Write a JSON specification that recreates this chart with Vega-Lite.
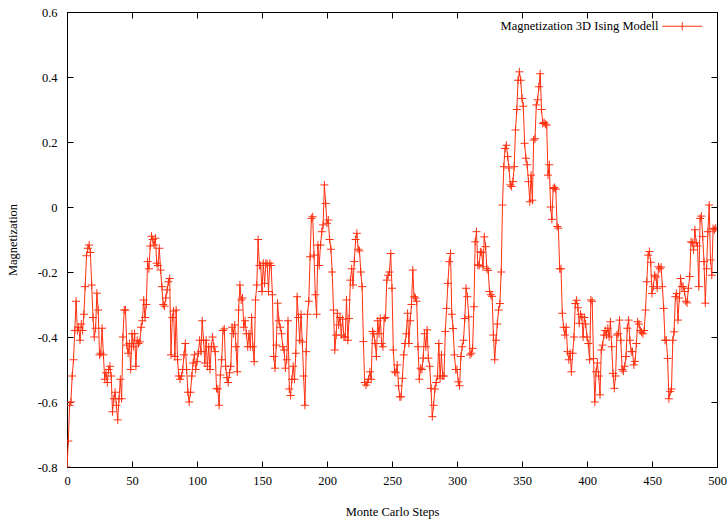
{
"$schema": "https://vega.github.io/schema/vega-lite/v6.json",
"width": 650, "height": 455,
"autosize": {"type": "none"},
"padding": {"left": 67, "top": 12, "right": 11, "bottom": 55},
"config": {
  "view": {"stroke": "black", "strokeWidth": 1},
  "font": "Liberation Serif",
  "axis": {"domainColor": "black", "tickColor": "black", "tickSize": -6, "grid": false, "labelFont": "Liberation Serif", "labelFontSize": 12.5, "labelColor": "black", "titleFont": "Liberation Serif", "titleFontSize": 12.5, "titleFontWeight": "normal", "titleColor": "black"}
},
"data": {"values": [
{"s":0,"m":-0.80},{"s":1,"m":-0.72},{"s":2,"m":-0.61},{"s":3,"m":-0.60},{"s":4,"m":-0.52},{"s":5,"m":-0.47},{"s":6,"m":-0.38},{"s":7,"m":-0.29},{"s":8,"m":-0.38},{"s":9,"m":-0.37},
{"s":10,"m":-0.41},{"s":11,"m":-0.36},{"s":12,"m":-0.38},{"s":13,"m":-0.33},{"s":14,"m":-0.245},{"s":15,"m":-0.15},{"s":16,"m":-0.127},{"s":17,"m":-0.117},{"s":18,"m":-0.14},{"s":19,"m":-0.24},
{"s":20,"m":-0.34},{"s":21,"m":-0.40},{"s":22,"m":-0.373},{"s":23,"m":-0.265},{"s":24,"m":-0.317},{"s":25,"m":-0.455},{"s":26,"m":-0.45},{"s":27,"m":-0.373},{"s":28,"m":-0.455},{"s":29,"m":-0.53},
{"s":30,"m":-0.51},{"s":31,"m":-0.54},{"s":32,"m":-0.50},{"s":33,"m":-0.49},{"s":34,"m":-0.52},{"s":35,"m":-0.63},{"s":36,"m":-0.59},{"s":37,"m":-0.57},{"s":38,"m":-0.61},{"s":39,"m":-0.655},
{"s":40,"m":-0.59},{"s":41,"m":-0.53},{"s":42,"m":-0.59},{"s":43,"m":-0.40},{"s":44,"m":-0.317},{"s":45,"m":-0.317},{"s":46,"m":-0.425},{"s":47,"m":-0.45},{"s":48,"m":-0.42},{"s":49,"m":-0.50},
{"s":50,"m":-0.39},{"s":51,"m":-0.43},{"s":52,"m":-0.39},{"s":53,"m":-0.49},{"s":54,"m":-0.41},{"s":55,"m":-0.42},{"s":56,"m":-0.415},{"s":57,"m":-0.37},{"s":58,"m":-0.35},{"s":59,"m":-0.286},
{"s":60,"m":-0.34},{"s":61,"m":-0.30},{"s":62,"m":-0.168},{"s":63,"m":-0.19},{"s":64,"m":-0.12},{"s":65,"m":-0.09},{"s":66,"m":-0.10},{"s":67,"m":-0.117},{"s":68,"m":-0.096},{"s":69,"m":-0.173},
{"s":70,"m":-0.18},{"s":71,"m":-0.127},{"s":72,"m":-0.194},{"s":73,"m":-0.245},{"s":74,"m":-0.30},{"s":75,"m":-0.305},{"s":76,"m":-0.28},{"s":77,"m":-0.255},{"s":78,"m":-0.23},{"s":79,"m":-0.22},
{"s":80,"m":-0.455},{"s":81,"m":-0.34},{"s":82,"m":-0.32},{"s":83,"m":-0.46},{"s":84,"m":-0.317},{"s":85,"m":-0.47},{"s":86,"m":-0.52},{"s":87,"m":-0.53},{"s":88,"m":-0.52},{"s":89,"m":-0.50},
{"s":90,"m":-0.455},{"s":91,"m":-0.42},{"s":92,"m":-0.50},{"s":93,"m":-0.57},{"s":94,"m":-0.60},{"s":95,"m":-0.57},{"s":96,"m":-0.52},{"s":97,"m":-0.48},{"s":98,"m":-0.455},{"s":99,"m":-0.50},
{"s":100,"m":-0.476},{"s":101,"m":-0.45},{"s":102,"m":-0.41},{"s":103,"m":-0.445},{"s":104,"m":-0.35},{"s":105,"m":-0.41},{"s":106,"m":-0.48},{"s":107,"m":-0.41},{"s":108,"m":-0.49},{"s":109,"m":-0.43},
{"s":110,"m":-0.50},{"s":111,"m":-0.43},{"s":112,"m":-0.40},{"s":113,"m":-0.43},{"s":114,"m":-0.445},{"s":115,"m":-0.558},{"s":116,"m":-0.56},{"s":117,"m":-0.61},{"s":118,"m":-0.517},{"s":119,"m":-0.47},
{"s":120,"m":-0.38},{"s":121,"m":-0.375},{"s":122,"m":-0.49},{"s":123,"m":-0.525},{"s":124,"m":-0.54},{"s":125,"m":-0.51},{"s":126,"m":-0.49},{"s":127,"m":-0.37},{"s":128,"m":-0.39},{"s":129,"m":-0.363},
{"s":130,"m":-0.43},{"s":131,"m":-0.507},{"s":132,"m":-0.317},{"s":133,"m":-0.24},{"s":134,"m":-0.286},{"s":135,"m":-0.28},{"s":136,"m":-0.37},{"s":137,"m":-0.35},{"s":138,"m":-0.39},{"s":139,"m":-0.43},
{"s":140,"m":-0.39},{"s":141,"m":-0.43},{"s":142,"m":-0.34},{"s":143,"m":-0.43},{"s":144,"m":-0.476},{"s":145,"m":-0.286},{"s":146,"m":-0.24},{"s":147,"m":-0.10},{"s":148,"m":-0.18},{"s":149,"m":-0.18},
{"s":150,"m":-0.26},{"s":151,"m":-0.173},{"s":152,"m":-0.235},{"s":153,"m":-0.173},{"s":154,"m":-0.175},{"s":155,"m":-0.26},{"s":156,"m":-0.173},{"s":157,"m":-0.18},{"s":158,"m":-0.27},{"s":159,"m":-0.46},
{"s":160,"m":-0.496},{"s":161,"m":-0.425},{"s":162,"m":-0.296},{"s":163,"m":-0.35},{"s":164,"m":-0.37},{"s":165,"m":-0.39},{"s":166,"m":-0.43},{"s":167,"m":-0.44},{"s":168,"m":-0.496},{"s":169,"m":-0.47},
{"s":170,"m":-0.35},{"s":171,"m":-0.56},{"s":172,"m":-0.58},{"s":173,"m":-0.53},{"s":174,"m":-0.49},{"s":175,"m":-0.53},{"s":176,"m":-0.45},{"s":177,"m":-0.276},{"s":178,"m":-0.34},{"s":179,"m":-0.41},
{"s":180,"m":-0.33},{"s":181,"m":-0.415},{"s":182,"m":-0.52},{"s":183,"m":-0.61},{"s":184,"m":-0.445},{"s":185,"m":-0.33},{"s":186,"m":-0.29},{"s":187,"m":-0.153},{"s":188,"m":-0.035},{"s":189,"m":-0.03},
{"s":190,"m":-0.148},{"s":191,"m":-0.27},{"s":192,"m":-0.33},{"s":193,"m":-0.117},{"s":194,"m":-0.18},{"s":195,"m":-0.117},{"s":196,"m":-0.076},{"s":197,"m":-0.055},{"s":198,"m":0.068},{"s":199,"m":0.011},
{"s":200,"m":-0.05},{"s":201,"m":-0.04},{"s":202,"m":-0.10},{"s":203,"m":-0.13},{"s":204,"m":-0.20},{"s":205,"m":-0.317},{"s":206,"m":-0.44},{"s":207,"m":-0.394},{"s":208,"m":-0.327},{"s":209,"m":-0.363},
{"s":210,"m":-0.34},{"s":211,"m":-0.394},{"s":212,"m":-0.345},{"s":213,"m":-0.40},{"s":214,"m":-0.40},{"s":215,"m":-0.286},{"s":216,"m":-0.41},{"s":217,"m":-0.343},{"s":218,"m":-0.225},{"s":219,"m":-0.19},
{"s":220,"m":-0.24},{"s":221,"m":-0.168},{"s":222,"m":-0.10},{"s":223,"m":-0.081},{"s":224,"m":-0.13},{"s":225,"m":-0.135},{"s":226,"m":-0.20},{"s":227,"m":-0.245},{"s":228,"m":-0.414},{"s":229,"m":-0.54},
{"s":230,"m":-0.548},{"s":231,"m":-0.54},{"s":232,"m":-0.53},{"s":233,"m":-0.507},{"s":234,"m":-0.53},{"s":235,"m":-0.383},{"s":236,"m":-0.39},{"s":237,"m":-0.42},{"s":238,"m":-0.46},{"s":239,"m":-0.35},
{"s":240,"m":-0.39},{"s":241,"m":-0.343},{"s":242,"m":-0.42},{"s":243,"m":-0.43},{"s":244,"m":-0.343},{"s":245,"m":-0.34},{"s":246,"m":-0.225},{"s":247,"m":-0.21},{"s":248,"m":-0.20},{"s":249,"m":-0.143},
{"s":250,"m":-0.25},{"s":251,"m":-0.44},{"s":252,"m":-0.507},{"s":253,"m":-0.51},{"s":254,"m":-0.486},{"s":255,"m":-0.55},{"s":256,"m":-0.584},{"s":257,"m":-0.584},{"s":258,"m":-0.527},{"s":259,"m":-0.455},
{"s":260,"m":-0.42},{"s":261,"m":-0.39},{"s":262,"m":-0.327},{"s":263,"m":-0.42},{"s":264,"m":-0.35},{"s":265,"m":-0.30},{"s":266,"m":-0.194},{"s":267,"m":-0.276},{"s":268,"m":-0.28},{"s":269,"m":-0.29},
{"s":270,"m":-0.43},{"s":271,"m":-0.53},{"s":272,"m":-0.496},{"s":273,"m":-0.50},{"s":274,"m":-0.465},{"s":275,"m":-0.39},{"s":276,"m":-0.43},{"s":277,"m":-0.378},{"s":278,"m":-0.465},{"s":279,"m":-0.49},
{"s":280,"m":-0.558},{"s":281,"m":-0.645},{"s":282,"m":-0.61},{"s":283,"m":-0.56},{"s":284,"m":-0.54},{"s":285,"m":-0.52},{"s":286,"m":-0.42},{"s":287,"m":-0.527},{"s":288,"m":-0.455},{"s":289,"m":-0.52},
{"s":290,"m":-0.52},{"s":291,"m":-0.383},{"s":292,"m":-0.312},{"s":293,"m":-0.235},{"s":294,"m":-0.168},{"s":295,"m":-0.143},{"s":296,"m":-0.33},{"s":297,"m":-0.374},{"s":298,"m":-0.455},{"s":299,"m":-0.50},
{"s":300,"m":-0.50},{"s":301,"m":-0.538},{"s":302,"m":-0.55},{"s":303,"m":-0.46},{"s":304,"m":-0.43},{"s":305,"m":-0.41},{"s":306,"m":-0.343},{"s":307,"m":-0.25},{"s":308,"m":-0.276},{"s":309,"m":-0.338},
{"s":310,"m":-0.455},{"s":311,"m":-0.45},{"s":312,"m":-0.435},{"s":313,"m":-0.307},{"s":314,"m":-0.107},{"s":315,"m":-0.076},{"s":316,"m":-0.178},{"s":317,"m":-0.18},{"s":318,"m":-0.138},{"s":319,"m":-0.14},
{"s":320,"m":-0.184},{"s":321,"m":-0.092},{"s":322,"m":-0.122},{"s":323,"m":-0.19},{"s":324,"m":-0.195},{"s":325,"m":-0.26},{"s":326,"m":-0.27},{"s":327,"m":-0.275},{"s":328,"m":-0.394},{"s":329,"m":-0.47},
{"s":330,"m":-0.41},{"s":331,"m":-0.36},{"s":332,"m":-0.317},{"s":333,"m":-0.297},{"s":334,"m":-0.20},{"s":335,"m":0.006},{"s":336,"m":0.124},{"s":337,"m":0.18},{"s":338,"m":0.19},{"s":339,"m":0.155},
{"s":340,"m":0.12},{"s":341,"m":0.068},{"s":342,"m":0.063},{"s":343,"m":0.078},{"s":344,"m":0.124},{"s":345,"m":0.237},{"s":346,"m":0.30},{"s":347,"m":0.39},{"s":348,"m":0.416},{"s":349,"m":0.39},
{"s":350,"m":0.334},{"s":351,"m":0.31},{"s":352,"m":0.196},{"s":353,"m":0.15},{"s":354,"m":0.13},{"s":355,"m":0.078},{"s":356,"m":0.016},{"s":357,"m":0.098},{"s":358,"m":0.021},{"s":359,"m":0.206},
{"s":360,"m":0.21},{"s":361,"m":0.314},{"s":362,"m":0.33},{"s":363,"m":0.37},{"s":364,"m":0.41},{"s":365,"m":0.30},{"s":366,"m":0.257},{"s":367,"m":0.26},{"s":368,"m":0.255},{"s":369,"m":0.252},
{"s":370,"m":0.098},{"s":371,"m":0.13},{"s":372,"m":0.0},{"s":373,"m":-0.038},{"s":374,"m":0.057},{"s":375,"m":0.06},{"s":376,"m":0.055},{"s":377,"m":-0.06},{"s":378,"m":-0.065},{"s":379,"m":-0.19},
{"s":380,"m":-0.19},{"s":381,"m":-0.327},{"s":382,"m":-0.37},{"s":383,"m":-0.394},{"s":384,"m":-0.37},{"s":385,"m":-0.445},{"s":386,"m":-0.47},{"s":387,"m":-0.45},{"s":388,"m":-0.507},{"s":389,"m":-0.45},
{"s":390,"m":-0.40},{"s":391,"m":-0.297},{"s":392,"m":-0.287},{"s":393,"m":-0.31},{"s":394,"m":-0.358},{"s":395,"m":-0.33},{"s":396,"m":-0.338},{"s":397,"m":-0.40},{"s":398,"m":-0.34},{"s":399,"m":-0.36},
{"s":400,"m":-0.40},{"s":401,"m":-0.42},{"s":402,"m":-0.47},{"s":403,"m":-0.286},{"s":404,"m":-0.29},{"s":405,"m":-0.466},{"s":406,"m":-0.60},{"s":407,"m":-0.507},{"s":408,"m":-0.48},{"s":409,"m":-0.52},
{"s":410,"m":-0.578},{"s":411,"m":-0.44},{"s":412,"m":-0.425},{"s":413,"m":-0.394},{"s":414,"m":-0.38},{"s":415,"m":-0.394},{"s":416,"m":-0.373},{"s":417,"m":-0.40},{"s":418,"m":-0.353},{"s":419,"m":-0.43},
{"s":420,"m":-0.512},{"s":421,"m":-0.558},{"s":422,"m":-0.52},{"s":423,"m":-0.394},{"s":424,"m":-0.39},{"s":425,"m":-0.348},{"s":426,"m":-0.41},{"s":427,"m":-0.50},{"s":428,"m":-0.505},{"s":429,"m":-0.49},
{"s":430,"m":-0.46},{"s":431,"m":-0.373},{"s":432,"m":-0.348},{"s":433,"m":-0.41},{"s":434,"m":-0.445},{"s":435,"m":-0.445},{"s":436,"m":-0.486},{"s":437,"m":-0.475},{"s":438,"m":-0.42},{"s":439,"m":-0.353},
{"s":440,"m":-0.36},{"s":441,"m":-0.38},{"s":442,"m":-0.385},{"s":443,"m":-0.39},{"s":444,"m":-0.38},{"s":445,"m":-0.317},{"s":446,"m":-0.23},{"s":447,"m":-0.148},{"s":448,"m":-0.137},{"s":449,"m":-0.17},
{"s":450,"m":-0.266},{"s":451,"m":-0.245},{"s":452,"m":-0.21},{"s":453,"m":-0.215},{"s":454,"m":-0.25},{"s":455,"m":-0.184},{"s":456,"m":-0.19},{"s":457,"m":-0.185},{"s":458,"m":-0.245},{"s":459,"m":-0.312},
{"s":460,"m":-0.41},{"s":461,"m":-0.41},{"s":462,"m":-0.466},{"s":463,"m":-0.59},{"s":464,"m":-0.568},{"s":465,"m":-0.56},{"s":466,"m":-0.41},{"s":467,"m":-0.384},{"s":468,"m":-0.276},{"s":469,"m":-0.266},
{"s":470,"m":-0.348},{"s":471,"m":-0.28},{"s":472,"m":-0.22},{"s":473,"m":-0.245},{"s":474,"m":-0.245},{"s":475,"m":-0.26},{"s":476,"m":-0.29},{"s":477,"m":-0.295},{"s":478,"m":-0.25},{"s":479,"m":-0.214},
{"s":480,"m":-0.107},{"s":481,"m":-0.11},{"s":482,"m":-0.132},{"s":483,"m":-0.07},{"s":484,"m":-0.11},{"s":485,"m":-0.12},{"s":486,"m":-0.245},{"s":487,"m":-0.035},{"s":488,"m":-0.028},{"s":489,"m":-0.091},
{"s":490,"m":-0.168},{"s":491,"m":-0.296},{"s":492,"m":-0.19},{"s":493,"m":-0.076},{"s":494,"m":0.006},{"s":495,"m":-0.163},{"s":496,"m":-0.21},{"s":497,"m":-0.066},{"s":498,"m":-0.07},{"s":499,"m":-0.065}
]},
"layer": [
  {"mark": {"type": "line", "strokeWidth": 1, "clip": true},
   "encoding": {
     "x": {"field": "s", "type": "quantitative", "scale": {"domain": [0, 500], "nice": false, "zero": false},
           "axis": {"orient": "bottom", "values": [0,50,100,150,200,250,300,350,400,450,500], "labelPadding": 13, "title": "Monte Carlo Steps", "titlePadding": 19, "labelFlush": false}},
     "y": {"field": "m", "type": "quantitative", "scale": {"domain": [-0.8, 0.6], "nice": false, "zero": false},
           "axis": {"orient": "left", "values": [-0.8,-0.6,-0.4,-0.2,0,0.2,0.4,0.6], "labelPadding": 16, "title": "Magnetization", "titlePadding": 18, "labelFlush": false,
                    "labelExpr": "abs(datum.value) < 1e-9 ? '0' : (datum.value < 0 ? '-' + format(-datum.value, '.1f') : format(datum.value, '.1f'))"}},
     "color": {"datum": "Magnetization 3D Ising Modell", "type": "nominal", "scale": {"range": ["#ff3010"]},
               "legend": {"title": null, "orient": "none", "legendX": 609, "legendY": 8, "padding": 0, "symbolType": "M-5,0L5,0M0,-1L0,1", "symbolSize": 64, "symbolStrokeWidth": 1, "symbolFillColor": "transparent", "labelAlign": "right", "labelOffset": -30, "labelFont": "Liberation Serif", "labelFontSize": 12.5, "labelColor": "black", "labelLimit": 400}}
   }},
  {"mark": {"type": "point", "shape": "M-1,0L1,0M0,-1L0,1", "size": 64, "filled": false, "strokeWidth": 1, "opacity": 1, "clip": true},
   "encoding": {
     "x": {"field": "s", "type": "quantitative", "axis": null},
     "y": {"field": "m", "type": "quantitative", "axis": null},
     "color": {"datum": "Magnetization 3D Ising Modell", "type": "nominal"}
   }},
  {"mark": {"type": "point", "opacity": 0},
   "encoding": {
     "x": {"field": "s", "type": "quantitative", "axis": {"orient": "top", "values": [0,50,100,150,200,250,300,350,400,450,500], "labels": false, "title": null}},
     "y": {"field": "m", "type": "quantitative", "axis": {"orient": "right", "values": [-0.8,-0.6,-0.4,-0.2,0,0.2,0.4,0.6], "labels": false, "title": null}}
   }}
],
"resolve": {"axis": {"x": "independent", "y": "independent"}}
}
